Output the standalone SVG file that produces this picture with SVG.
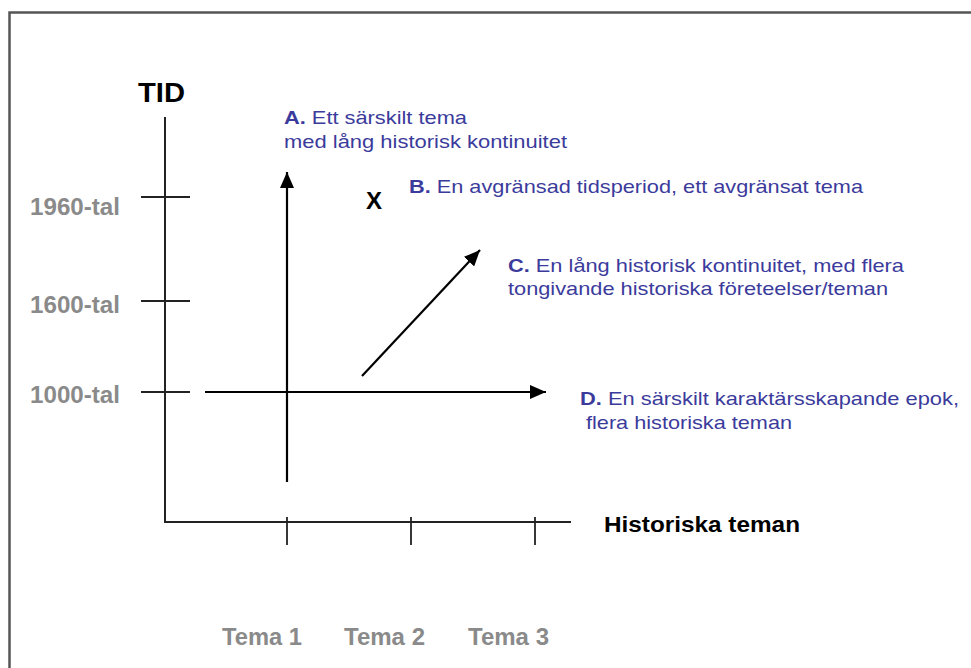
<svg xmlns="http://www.w3.org/2000/svg" width="971" height="668" viewBox="0 0 971 668">
<defs>
<style>
.frame{fill:none;stroke:#555;stroke-width:2.5}
.ax{stroke:#222;stroke-width:2;fill:none}
.tk{stroke:#222;stroke-width:1.8}
.arr{stroke:#000;stroke-width:2.2;fill:none}
.gray{font-family:"Liberation Sans",Arial,sans-serif;font-weight:bold;fill:#8a8a8a}
.blue{font-family:"Liberation Sans",Arial,sans-serif;font-size:18.5px;fill:#3b3b9c}
.bb{font-weight:bold}
.blk{font-family:"Liberation Sans",Arial,sans-serif;font-weight:bold;fill:#000}
</style>
<marker id="ah2" viewBox="0 0 16 14" refX="16" refY="7" markerWidth="16" markerHeight="14" orient="auto" markerUnits="userSpaceOnUse">
<path d="M0,0 L16,7 L0,14 Z" fill="#000"/>
</marker>
</defs>
<rect width="971" height="668" fill="#fff"/>
<path class="frame" d="M9.5,680 V12.5 H980"/>

<g id="axes">
<line class="ax" x1="165" y1="117" x2="165" y2="522"/>
<line class="ax" x1="164" y1="522" x2="571" y2="522"/>
<line class="tk" x1="141" y1="197" x2="190" y2="197"/>
<line class="tk" x1="141" y1="301" x2="190" y2="301"/>
<line class="tk" x1="141" y1="392" x2="190" y2="392"/>
<line class="tk" x1="287" y1="517" x2="287" y2="545"/>
<line class="tk" x1="411" y1="517" x2="411" y2="545"/>
<line class="tk" x1="535" y1="517" x2="535" y2="545"/>
</g>

<g id="labels">
<text class="blk" x="138" y="102" font-size="27" textLength="47" lengthAdjust="spacingAndGlyphs">TID</text>
<text class="gray" x="30" y="215" font-size="24" textLength="90" lengthAdjust="spacingAndGlyphs">1960-tal</text>
<text class="gray" x="30" y="313" font-size="24" textLength="90" lengthAdjust="spacingAndGlyphs">1600-tal</text>
<text class="gray" x="30" y="403" font-size="24" textLength="90" lengthAdjust="spacingAndGlyphs">1000-tal</text>
<text class="blk" x="604" y="532" font-size="22.5" textLength="196" lengthAdjust="spacingAndGlyphs">Historiska teman</text>
<text class="gray" x="222" y="645" font-size="23" textLength="80" lengthAdjust="spacingAndGlyphs">Tema 1</text>
<text class="gray" x="344" y="645" font-size="23" textLength="81" lengthAdjust="spacingAndGlyphs">Tema 2</text>
<text class="gray" x="468" y="645" font-size="23" textLength="81" lengthAdjust="spacingAndGlyphs">Tema 3</text>
<text class="blk" x="366" y="209" font-size="24">X</text>
</g>

<g id="connectors">
<line class="arr" x1="287" y1="482" x2="287" y2="172" marker-end="url(#ah2)"/>
<line class="arr" x1="205" y1="392" x2="546" y2="392" marker-end="url(#ah2)"/>
<line class="arr" x1="362" y1="376" x2="480" y2="250" marker-end="url(#ah2)"/>
</g>

<g id="nodeA">
<text class="blue" x="284" y="124" textLength="183" lengthAdjust="spacingAndGlyphs"><tspan class="bb">A.</tspan> Ett särskilt tema</text>
<text class="blue" x="284" y="148" textLength="283" lengthAdjust="spacingAndGlyphs">med lång historisk kontinuitet</text>
</g>
<g id="nodeB">
<text class="blue" x="409" y="193" textLength="454" lengthAdjust="spacingAndGlyphs"><tspan class="bb">B.</tspan> En avgränsad tidsperiod, ett avgränsat tema</text>
</g>
<g id="nodeC">
<text class="blue" x="508" y="272" textLength="396" lengthAdjust="spacingAndGlyphs"><tspan class="bb">C.</tspan> En lång historisk kontinuitet, med flera</text>
<text class="blue" x="508" y="295" textLength="380" lengthAdjust="spacingAndGlyphs">tongivande historiska företeelser/teman</text>
</g>
<g id="nodeD">
<text class="blue" x="580" y="405" textLength="379" lengthAdjust="spacingAndGlyphs"><tspan class="bb">D.</tspan> En särskilt karaktärsskapande epok,</text>
<text class="blue" x="586" y="429" textLength="206" lengthAdjust="spacingAndGlyphs">flera historiska teman</text>
</g>
</svg>
